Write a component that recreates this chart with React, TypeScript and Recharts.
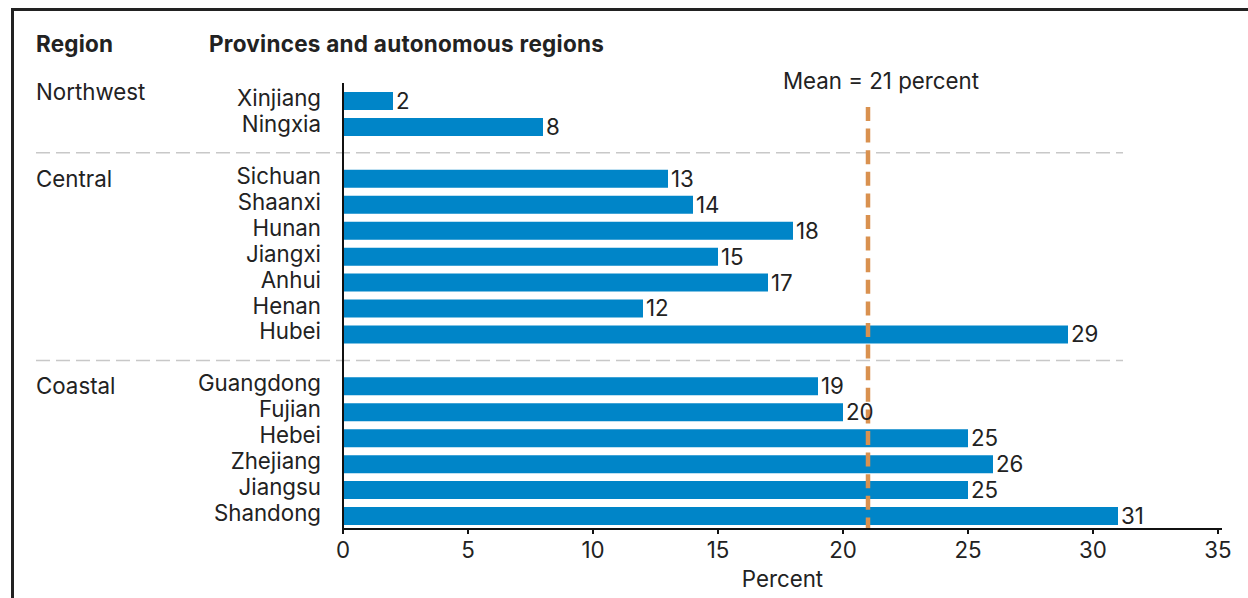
import React from 'react';
import { BarChart, Bar, XAxis, YAxis, ReferenceLine, LabelList } from 'recharts';

// Share of each province, grouped by region (percent)
const regionNames = ['Northwest', 'Central', 'Coastal'];

const northwestProvinces = ['Xinjiang', 'Ningxia'];
const northwestValues = [2, 8];

const centralProvinces = ['Sichuan', 'Shaanxi', 'Hunan', 'Jiangxi', 'Anhui', 'Henan', 'Hubei'];
const centralValues = [13, 14, 18, 15, 17, 12, 29];

const coastalProvinces = ['Guangdong', 'Fujian', 'Hebei', 'Zhejiang', 'Jiangsu', 'Shandong'];
const coastalValues = [19, 20, 25, 26, 25, 31];

const meanValue = 21;
const meanLabel = `Mean = ${meanValue} percent`;
const xTicks = [0, 5, 10, 15, 20, 25, 30, 35];

const FONT = 'Inter, "Noto Sans", sans-serif';
const TEXT = '#222222';
const BAR = '#0085C8';
const MEAN = '#D9914F';
const FS = 22.3;

type Row = { name: string; value?: number; region?: string };

const groups = [
  { region: regionNames[0], provinces: northwestProvinces, values: northwestValues },
  { region: regionNames[1], provinces: centralProvinces, values: centralValues },
  { region: regionNames[2], provinces: coastalProvinces, values: coastalValues },
];

// One blank band between regions keeps room for the dashed divider
const rows: Row[] = [];
const spacerKeys: string[] = [];
groups.forEach((g, gi) => {
  if (gi > 0) {
    const key = `spacer-${gi}`;
    spacerKeys.push(key);
    rows.push({ name: key });
  }
  g.provinces.forEach((p, i) =>
    rows.push({ name: p, value: g.values[i], region: i === 0 ? g.region : undefined })
  );
});

const regionByProvince = new Map<string, string>();
rows.forEach((r) => {
  if (r.region) regionByProvince.set(r.name, r.region);
});

const ProvinceTick = (props: any) => {
  const { x, y, payload, index } = props;
  const name: string = payload.value;
  if (name.startsWith('spacer-')) return <g />;
  const region = regionByProvince.get(name);
  // the first region name sits level with its row; the others drop a little below
  const regionY = index === 0 ? y - 1 : y + 8;
  return (
    <g>
      <text x={x} y={y + 5} textAnchor="end" fill={TEXT} fontSize={FS} fontFamily={FONT}>
        {name}
      </text>
      {region && (
        <text x={36} y={regionY} textAnchor="start" fill={TEXT} fontSize={FS} fontFamily={FONT}>
          {region}
        </text>
      )}
    </g>
  );
};

const DividerShape = (props: any) => (
  <line
    x1={36}
    x2={1123}
    y1={props.y1}
    y2={props.y2}
    stroke="#c8c8c8"
    strokeWidth={1.5}
    strokeDasharray="14 6"
  />
);

const MeanShape = (props: any) => {
  const top = Math.min(props.y1, props.y2);
  const bottom = Math.max(props.y1, props.y2);
  return (
    <line
      x1={props.x1}
      x2={props.x2}
      y1={top + 24}
      y2={bottom - 1}
      stroke={MEAN}
      strokeWidth={4.5}
      strokeDasharray="14 7.6"
    />
  );
};

export default function App() {
  return (
    <div style={{ position: 'absolute', left: 0, top: 0, width: 1248, height: 598, background: '#fff' }}>
      <svg width={1248} height={598} style={{ position: 'absolute', left: 0, top: 0 }}>
        <path d="M12.5 700 V9.5 H1400" stroke="#222" strokeWidth={3} fill="none" />
        <text x={36} y={52} fill={TEXT} fontSize={22.5} fontWeight={700} letterSpacing={0.2} fontFamily={FONT}>
          Region
        </text>
        <text x={209} y={52} fill={TEXT} fontSize={22.5} fontWeight={700} letterSpacing={0.25} fontFamily={FONT}>
          Provinces and autonomous regions
        </text>
      </svg>
      <div style={{ position: 'absolute', left: 0, top: 0 }}>
        <BarChart
          width={1248}
          height={598}
          data={rows}
          layout="vertical"
          margin={{ top: 83, right: 26, bottom: 9, left: 10 }}
          style={{ fontFamily: FONT }}
        >
          <XAxis
            type="number"
            domain={[0, 35]}
            ticks={xTicks}
            interval={0}
            height={60}
            padding={{ left: 0, right: 4 }}
            axisLine={{ stroke: '#111', strokeWidth: 2 }}
            tickLine={{ stroke: '#111', strokeWidth: 2 }}
            tickSize={5}
            tickMargin={8}
            tick={{ fill: TEXT, fontSize: FS, fontFamily: FONT }}
            label={{ value: 'Percent', position: 'insideBottom', offset: 2, fill: TEXT, fontSize: FS, fontFamily: FONT }}
          />
          <YAxis
            type="category"
            dataKey="name"
            width={333}
            interval={0}
            padding={{ top: 5, bottom: 0 }}
            axisLine={{ stroke: '#111', strokeWidth: 2 }}
            tickLine={false}
            tickSize={0}
            tickMargin={22}
            tick={ProvinceTick}
          />
          <Bar dataKey="value" fill={BAR} barSize={18} isAnimationActive={false}>
            <LabelList dataKey="value" position="right" offset={3} fill={TEXT} fontSize={FS} fontFamily={FONT} />
          </Bar>
          {spacerKeys.map((k) => (
            <ReferenceLine key={k} y={k} shape={DividerShape} />
          ))}
          <ReferenceLine
            x={meanValue}
            shape={MeanShape}
            label={{ value: meanLabel, position: 'top', offset: -6, dx: 13, fill: TEXT, fontSize: FS, fontFamily: FONT }}
          />
        </BarChart>
      </div>
    </div>
  );
}
